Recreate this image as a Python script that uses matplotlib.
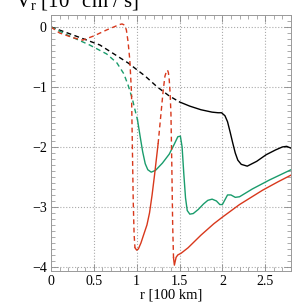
import numpy as np
import matplotlib
matplotlib.use("Agg")
from matplotlib import pyplot as plt
from matplotlib.ticker import MultipleLocator

plt.rcParams['font.family'] = ['Liberation Serif', 'DejaVu Serif']
plt.rcParams['mathtext.fontset'] = 'custom'
plt.rcParams['mathtext.rm'] = 'Liberation Serif'
plt.rcParams['mathtext.it'] = 'Liberation Serif:italic'

black_c = '#000000'
red_c = '#d8381c'
green_c = '#1a9c6c'

# black curve (dashed part, then solid part)
black_dash_x = [0.0, 0.25, 0.57, 0.9, 1.1, 1.24, 1.38, 1.5]
black_dash_y = [0.0, -0.13, -0.3, -0.6, -0.82, -1.0, -1.15, -1.25]
black_x = [1.5, 1.62, 1.75, 1.88, 1.95, 1.99, 2.03, 2.06, 2.09, 2.12, 2.15, 2.18, 2.22, 2.29, 2.4, 2.51, 2.62, 2.7, 2.75, 2.8]
black_y = [-1.25, -1.32, -1.38, -1.42, -1.43, -1.43, -1.48, -1.58, -1.75, -1.93, -2.1, -2.22, -2.29, -2.32, -2.24, -2.13, -2.05, -2.0, -1.99, -2.02]

# green curve
green_dash_x = [0.0, 0.2, 0.45, 0.65, 0.77, 0.85, 0.9, 0.95, 0.98, 1.01]
green_dash_y = [0.0, -0.14, -0.3, -0.45, -0.6, -0.78, -0.97, -1.2, -1.38, -1.55]
green_x = [1.01, 1.04, 1.07, 1.1, 1.13, 1.17, 1.22, 1.3, 1.38, 1.44, 1.48, 1.51, 1.53, 1.55, 1.57, 1.59, 1.62, 1.66, 1.72, 1.78, 1.83, 1.88, 1.93, 1.97, 2.0, 2.03, 2.06, 2.1, 2.15, 2.2, 2.35, 2.55, 2.8]
green_y = [-1.55, -1.82, -2.08, -2.28, -2.38, -2.42, -2.39, -2.27, -2.12, -1.95, -1.83, -1.82, -2.0, -2.45, -2.85, -3.06, -3.12, -3.11, -3.04, -2.95, -2.89, -2.87, -2.9, -2.96, -2.96, -2.88, -2.8, -2.8, -2.84, -2.83, -2.7, -2.55, -2.38]

# red curve
red_dash1_x = [0.0, 0.1, 0.26, 0.37, 0.5, 0.65, 0.75, 0.8, 0.83, 0.86, 0.88, 0.9, 0.92, 0.94, 0.95, 0.96, 0.97, 0.98]
red_dash1_y = [0.0, -0.1, -0.18, -0.22, -0.15, -0.05, 0.01, 0.04, 0.05, 0.03, -0.05, -0.25, -0.55, -1.1, -2.0, -2.9, -3.45, -3.68]
red_x1 = [0.98, 1.0, 1.02, 1.05, 1.08, 1.12, 1.15, 1.18, 1.21, 1.23, 1.25]
red_y1 = [-3.68, -3.72, -3.7, -3.6, -3.47, -3.3, -3.1, -2.8, -2.45, -2.2, -1.95]
red_dash2_x = [1.25, 1.28, 1.31, 1.33, 1.35, 1.36, 1.37, 1.38, 1.39, 1.4, 1.41, 1.42, 1.43]
red_dash2_y = [-1.95, -1.5, -1.05, -0.82, -0.73, -0.72, -0.76, -0.88, -1.1, -1.45, -2.3, -3.3, -3.85]
red_x2 = [1.43, 1.44, 1.46, 1.48, 1.52, 1.6, 1.75, 1.9, 2.0, 2.2, 2.47, 2.65, 2.8]
red_y2 = [-3.85, -3.97, -3.84, -3.8, -3.77, -3.68, -3.47, -3.28, -3.17, -2.96, -2.72, -2.58, -2.47]

fig = plt.figure(figsize=(3.05, 3.05), dpi=100)
ax = fig.add_axes([0.167, 0.111, 0.787, 0.84])

lw = 1.0
dash = (0, (3.5, 2.5))
ax.plot(black_dash_x, black_dash_y, color=black_c, lw=lw, ls=dash)
ax.plot(black_x, black_y, color=black_c, lw=lw)
ax.plot(green_dash_x, green_dash_y, color=green_c, lw=lw, ls=dash)
ax.plot(green_x, green_y, color=green_c, lw=lw)
ax.plot(red_dash1_x, red_dash1_y, color=red_c, lw=lw, ls=dash)
ax.plot(red_x1, red_y1, color=red_c, lw=lw)
ax.plot(red_dash2_x, red_dash2_y, color=red_c, lw=lw, ls=dash)
ax.plot(red_x2, red_y2, color=red_c, lw=lw)

ax.set_xlim(0, 2.8)
ax.set_ylim(-4.07, 0.2)
ax.xaxis.set_major_locator(MultipleLocator(0.5))
ax.xaxis.set_minor_locator(MultipleLocator(0.1))
ax.yaxis.set_major_locator(MultipleLocator(1))
ax.yaxis.set_minor_locator(MultipleLocator(0.1))
ax.xaxis.set_major_formatter(plt.FuncFormatter(lambda v, p: ('%g' % v)))
ax.yaxis.set_major_formatter(plt.FuncFormatter(lambda v, p: ('%g' % v).replace('-', '\u2212')))
ax.tick_params(which='both', direction='in', top=True, right=True, color='#888888', labelsize=10, pad=3)
ax.tick_params(which='major', length=5, width=0.6)
ax.tick_params(which='minor', length=3, width=0.5)
ax.grid(True, which='major', color='#aaaaaa', ls=':', lw=0.8)
for s in ax.spines.values():
    s.set_color('#999999')
    s.set_linewidth(0.7)

ax.set_xlabel('r [100 km]', fontsize=10.5, labelpad=0)
fig.text(0.05, 0.975, r'V$_\mathrm{r}$ [10$^{9}$ cm / s]', fontsize=15, va='baseline', ha='left')

fig.savefig('out.png', dpi=100)
